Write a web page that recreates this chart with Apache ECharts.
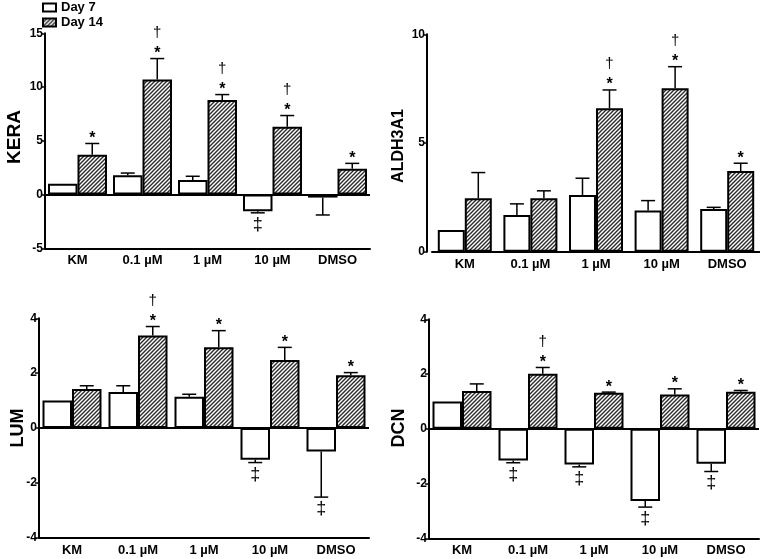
<!DOCTYPE html>
<html><head><meta charset="utf-8">
<script src="https://cdn.jsdelivr.net/npm/echarts@6/dist/echarts.min.js"></script>
<style>html,body{margin:0;padding:0;background:#fff}#c{width:760px;height:559px}</style>
</head><body><div id="c"></div>
<script>
const categories = ['KM', '0.1 µM', '1 µM', '10 µM', 'DMSO'];
const seriesNames = ['Day 7', 'Day 14'];

// KERA
const keraDay7 = [1.0, 1.8, 1.35, -1.55, -0.28];
const keraDay7Err = [0, 0.2, 0.35, 0.15, 1.62];
const keraDay14 = [3.7, 10.7, 8.8, 6.3, 2.4];
const keraDay14Err = [1.05, 1.95, 0.5, 1.05, 0.5];
const keraDay7Marks = ['', '', '', '‡', ''];
const keraDay14Marks = ['*', '*†', '*†', '*†', '*'];

// ALDH3A1
const aldhDay7 = [1.0, 1.69, 2.61, 1.89, 1.96];
const aldhDay7Err = [0, 0.51, 0.77, 0.46, 0.08];
const aldhDay14 = [2.46, 2.46, 6.6, 7.52, 3.71];
const aldhDay14Err = [1.18, 0.34, 0.84, 0.99, 0.36];
const aldhDay7Marks = ['', '', '', '', ''];
const aldhDay14Marks = ['', '', '*†', '*†', '*'];

// LUM
const lumDay7 = [1.0, 1.31, 1.14, -1.16, -0.86];
const lumDay7Err = [0, 0.23, 0.09, 0.10, 1.66];
const lumDay14 = [1.42, 3.37, 2.94, 2.48, 1.92];
const lumDay14Err = [0.12, 0.33, 0.61, 0.46, 0.10];
const lumDay7Marks = ['', '', '', '‡', '‡'];
const lumDay14Marks = ['', '*†', '*', '*', '*'];

// DCN
const dcnDay7 = [1.0, -1.16, -1.30, -2.64, -1.28];
const dcnDay7Err = [0, 0.08, 0.09, 0.22, 0.28];
const dcnDay14 = [1.38, 2.01, 1.32, 1.25, 1.35];
const dcnDay14Err = [0.26, 0.23, 0.02, 0.21, 0.05];
const dcnDay7Marks = ['', '‡', '‡', '‡', '‡'];
const dcnDay14Marks = ['', '*†', '*', '*', '*'];

// y-axis ticks
const keraTicks = {min: -5, max: 15, interval: 5};
const aldhTicks = {min: 0, max: 10, interval: 5};
const lumTicks = {min: -4, max: 4, interval: 2};
const dcnTicks = {min: -4, max: 4, interval: 2};

const FONT = '"Liberation Sans", Arial, sans-serif';

// hatch pattern
function makeHatch() {
  const s = 4;
  const cv = document.createElement('canvas');
  cv.width = s; cv.height = s;
  const ctx = cv.getContext('2d');
  ctx.fillStyle = '#fff'; ctx.fillRect(0, 0, s, s);
  ctx.strokeStyle = '#2a2a2a'; ctx.lineWidth = 1.4;
  ctx.beginPath();
  ctx.moveTo(-1, s + 1); ctx.lineTo(s + 1, -1);
  ctx.moveTo(-1, 1); ctx.lineTo(1, -1);
  ctx.moveTo(s - 1, s + 1); ctx.lineTo(s + 1, s - 1);
  ctx.stroke();
  return cv;
}
const hatch = {image: makeHatch(), repeat: 'repeat'};

const panels = [
  {title: 'KERA', d7: keraDay7, d7e: keraDay7Err, d14: keraDay14, d14e: keraDay14Err, m7: keraDay7Marks, m14: keraDay14Marks, ticks: keraTicks,
   grid: {left: 45, top: 33.3, width: 325, height: 215}, barWidth: 29.5, yOffset: 0, tx: 14.5, ty: 137, ts: 19},
  {title: 'ALDH3A1', d7: aldhDay7, d7e: aldhDay7Err, d14: aldhDay14, d14e: aldhDay14Err, m7: aldhDay7Marks, m14: aldhDay14Marks, ticks: aldhTicks,
   grid: {left: 432, top: 34.3, width: 328, height: 217.4}, barWidth: 27, yOffset: 5, tx: 399, ty: 146, ts: 16},
  {title: 'LUM', d7: lumDay7, d7e: lumDay7Err, d14: lumDay14, d14e: lumDay14Err, m7: lumDay7Marks, m14: lumDay14Marks, ticks: lumTicks,
   grid: {left: 39, top: 318.3, width: 330, height: 219.4}, barWidth: 29.5, yOffset: 0, tx: 18.5, ty: 428, ts: 18},
  {title: 'DCN', d7: dcnDay7, d7e: dcnDay7Err, d14: dcnDay14, d14e: dcnDay14Err, m7: dcnDay7Marks, m14: dcnDay14Marks, ticks: dcnTicks,
   grid: {left: 429, top: 319.3, width: 330, height: 219}, barWidth: 29.5, yOffset: 0, tx: 399, ty: 428, ts: 18}
];

const grids = [], xAxes = [], yAxes = [], series = [], graphics = [];

function errSeries(p, gi, k) {
  const means = k ? p.d14 : p.d7, errs = k ? p.d14e : p.d7e, marks = k ? p.m14 : p.m7;
  return {
    type: 'custom', xAxisIndex: gi, yAxisIndex: gi, silent: true, z: 5,
    data: means.map((m, i) => [i, m >= 0 ? m + errs[i] : m - errs[i]]),
    renderItem: function (params, api) {
      const i = params.dataIndex;
      const m = means[i], e = errs[i];
      const c0 = api.coord([i, m]);
      const c1 = api.coord([i, m >= 0 ? m + e : m - e]);
      const x = c0[0] + (k ? 1 : -1) * p.barWidth / 2;
      const ch = [];
      if (e > 0) {
        ch.push({type: 'line', shape: {x1: x, y1: c0[1], x2: x, y2: c1[1]}, style: {stroke: '#000', lineWidth: 1.5}});
        ch.push({type: 'line', shape: {x1: x - 7, y1: c1[1], x2: x + 7, y2: c1[1]}, style: {stroke: '#000', lineWidth: 1.5}});
      }
      const mk = marks[i];
      const yEnd = c1[1];
      if (mk.indexOf('*') >= 0) {
        ch.push({type: 'text', style: {text: '*', x: x, y: yEnd - 5, fill: '#000', font: 'bold 16px ' + FONT, align: 'center', verticalAlign: 'middle'}});
      }
      if (mk.indexOf('†') >= 0) {
        ch.push({type: 'text', style: {text: '†', x: x, y: yEnd - 26, fill: '#000', font: '15px ' + FONT, align: 'center', verticalAlign: 'middle'}});
      }
      if (mk.indexOf('‡') >= 0) {
        ch.push({type: 'text', style: {text: '‡', x: x, y: yEnd + 12, fill: '#000', font: '18px ' + FONT, align: 'center', verticalAlign: 'middle'}});
      }
      return {type: 'group', children: ch};
    }
  };
}

panels.forEach((p, gi) => {
  grids.push(Object.assign({containLabel: false}, p.grid));
  xAxes.push({
    type: 'category', gridIndex: gi, data: categories,
    axisLine: {onZero: false, lineStyle: {color: '#000', width: 2}},
    axisTick: {alignWithLabel: true, length: 4, lineStyle: {color: '#000', width: 1.5}},
    axisLabel: {color: '#000', fontWeight: 'bold', fontSize: 13, fontFamily: FONT, margin: 6},
    splitLine: {show: false}
  });
  yAxes.push({
    type: 'value', gridIndex: gi, min: p.ticks.min, max: p.ticks.max, interval: p.ticks.interval, offset: p.yOffset,
    axisLine: {show: true, lineStyle: {color: '#000', width: 2}},
    axisTick: {show: true, length: 4, lineStyle: {color: '#000', width: 1.5}},
    axisLabel: {color: '#000', fontWeight: 'bold', fontSize: 12, fontFamily: FONT, margin: 2},
    splitLine: {show: false}
  });
  series.push({
    name: seriesNames[0], type: 'bar', xAxisIndex: gi, yAxisIndex: gi, data: p.d7,
    barWidth: p.barWidth, barGap: '0%',
    itemStyle: {color: '#fff', borderColor: '#000', borderWidth: 2},
    silent: true,
    markLine: {silent: true, symbol: 'none', label: {show: false}, lineStyle: {color: '#000', width: 2, type: 'solid'}, data: [{yAxis: 0}]}
  });
  series.push({
    name: seriesNames[1], type: 'bar', xAxisIndex: gi, yAxisIndex: gi, data: p.d14,
    barWidth: p.barWidth, barGap: '0%',
    itemStyle: {color: hatch, borderColor: '#000', borderWidth: 2},
    silent: true
  });
  series.push(errSeries(p, gi, 0));
  series.push(errSeries(p, gi, 1));
  graphics.push({
    type: 'text', x: p.tx, y: p.ty, rotation: Math.PI / 2,
    style: {text: p.title, fill: '#000', font: 'bold ' + p.ts + 'px ' + FONT, align: 'center', verticalAlign: 'middle'}
  });
});

const chart = echarts.init(document.getElementById('c'), null, {renderer: 'canvas'});
chart.setOption({
  animation: false,
  backgroundColor: '#fff',
  legend: {
    data: seriesNames, orient: 'vertical', left: 37, top: -4, itemWidth: 13, itemHeight: 8, itemGap: 2,
    icon: 'rect', selectedMode: false,
    textStyle: {color: '#000', fontWeight: 'bold', fontSize: 13, fontFamily: FONT}
  },
  grid: grids, xAxis: xAxes, yAxis: yAxes, series: series, graphic: graphics
});
</script></body></html>
